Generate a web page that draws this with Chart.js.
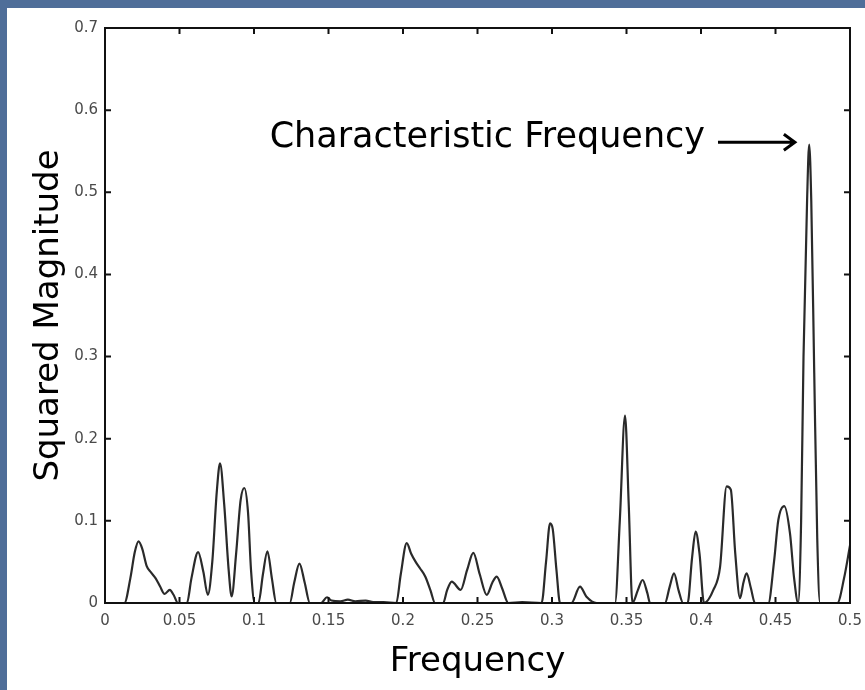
<!DOCTYPE html>
<html>
<head>
<meta charset="utf-8">
<script src="https://cdn.jsdelivr.net/npm/chart.js@4"></script>
<style>
  html, body { margin: 0; padding: 0; }
  body { width: 865px; height: 690px; background: #4f6e99; position: relative; overflow: hidden; }
  #panel { position: absolute; left: 7px; top: 8px; width: 858px; height: 682px; background: #fff; }
</style>
</head>
<body>
<div id="panel"><canvas id="spectrum" width="858" height="682"></canvas></div>
<script>
// spectrum
const freq = [
  0.000, 0.013, 0.017, 0.020, 0.0225, 0.025, 0.028, 0.031, 0.034, 0.037, 0.040, 0.0435, 0.046, 0.049,
  0.055, 0.058, 0.0625, 0.066, 0.069, 0.072, 0.075, 0.0772, 0.080, 0.083, 0.085, 0.088, 0.091, 0.0935,
  0.096, 0.098, 0.1005, 0.103, 0.106, 0.109, 0.112, 0.115, 0.124, 0.127, 0.1305, 0.134, 0.1375,
  0.145, 0.149, 0.152, 0.158, 0.163, 0.168, 0.175, 0.180, 0.187, 0.1955,
  0.1985, 0.2025, 0.2055, 0.2085, 0.2115, 0.215, 0.2185, 0.2215, 0.227, 0.2295, 0.2327, 0.2387,
  0.243, 0.2472, 0.2515, 0.2562, 0.260, 0.2629, 0.2665, 0.2707, 0.280, 0.293, 0.296, 0.2987, 0.3005,
  0.303, 0.3054, 0.313, 0.3188, 0.323, 0.330, 0.3423, 0.3455, 0.349, 0.3515, 0.354, 0.3575, 0.3608,
  0.364, 0.3658, 0.3758, 0.379, 0.3819, 0.385, 0.388, 0.391, 0.394, 0.3964, 0.399, 0.402, 0.4083,
  0.4128, 0.4172, 0.420, 0.423, 0.4262, 0.4285, 0.4306, 0.4335, 0.4362, 0.4452, 0.449, 0.4519, 0.4559,
  0.4597, 0.4625, 0.4652, 0.4672, 0.4688, 0.4712, 0.4726, 0.474, 0.476, 0.478, 0.4799, 0.4915, 0.496, 0.500
];
const magnitude = [
  0.000, 0.000, 0.030, 0.062, 0.075, 0.066, 0.045, 0.037, 0.030, 0.020, 0.011, 0.016, 0.010, 0.000,
  0.000, 0.030, 0.062, 0.038, 0.010, 0.050, 0.135, 0.170, 0.120, 0.040, 0.008, 0.060, 0.125, 0.140,
  0.110, 0.040, 0.000, 0.000, 0.035, 0.063, 0.030, 0.000, 0.000, 0.025, 0.048, 0.025, 0.000,
  0.000, 0.007, 0.003, 0.002, 0.004, 0.002, 0.003, 0.001, 0.001, 0.000,
  0.035, 0.073, 0.060, 0.050, 0.042, 0.032, 0.015, 0.000, 0.000, 0.015, 0.026, 0.016,
  0.040, 0.061, 0.035, 0.010, 0.025, 0.032, 0.018, 0.000, 0.001, 0.000, 0.050, 0.097, 0.090,
  0.040, 0.000, 0.000, 0.020, 0.008, 0.000, 0.000, 0.100, 0.228, 0.120, 0.000, 0.015, 0.028,
  0.012, 0.000, 0.000, 0.020, 0.036, 0.015, 0.000, 0.000, 0.055, 0.087, 0.060, 0.000, 0.016,
  0.044, 0.142, 0.138, 0.060, 0.006, 0.025, 0.036, 0.018, 0.000, 0.000, 0.050, 0.101, 0.118,
  0.085, 0.030, 0.000, 0.100, 0.300, 0.490, 0.558, 0.490, 0.280, 0.080, 0.000, 0.000, 0.030, 0.070
];
const xTickLabels = ['0', '0.05', '0.1', '0.15', '0.2', '0.25', '0.3', '0.35', '0.4', '0.45', '0.5'];
const yTickLabels = ['0', '0.1', '0.2', '0.3', '0.4', '0.5', '0.6', '0.7'];

// annotation, in data units
const noteText = 'Characteristic Frequency';
const noteEnd = 0.4027, noteY = 0.566;
const arrowFrom = 0.4114, arrowTo = 0.463, arrowY = 0.561;

const frameAndNote = {
  id: 'frameAndNote',
  afterDraw(chart) {
    const { ctx, chartArea: a, scales: { x, y } } = chart;
    ctx.save();
    ctx.strokeStyle = '#111';
    ctx.lineWidth = 2;
    ctx.strokeRect(a.left, a.top, a.right - a.left, a.bottom - a.top);
    // inward ticks on all four sides
    const tl = 6;
    ctx.beginPath();
    x.ticks.forEach(t => {
      const px = x.getPixelForValue(t.value);
      ctx.moveTo(px, a.bottom); ctx.lineTo(px, a.bottom - tl);
      ctx.moveTo(px, a.top); ctx.lineTo(px, a.top + tl);
    });
    y.ticks.forEach(t => {
      const py = y.getPixelForValue(t.value);
      ctx.moveTo(a.left, py); ctx.lineTo(a.left + tl, py);
      ctx.moveTo(a.right, py); ctx.lineTo(a.right - tl, py);
    });
    ctx.stroke();

    ctx.fillStyle = '#000';
    ctx.font = '35px "DejaVu Sans"';
    ctx.textAlign = 'right';
    ctx.textBaseline = 'middle';
    ctx.fillText(noteText, x.getPixelForValue(noteEnd), y.getPixelForValue(noteY));

    const x0 = x.getPixelForValue(arrowFrom), x1 = x.getPixelForValue(arrowTo);
    const ay = y.getPixelForValue(arrowY);
    ctx.lineWidth = 3;
    ctx.strokeStyle = '#000';
    ctx.beginPath();
    ctx.moveTo(x0, ay); ctx.lineTo(x1, ay);
    ctx.moveTo(x1 - 11, ay - 8); ctx.lineTo(x1, ay); ctx.lineTo(x1 - 11, ay + 8);
    ctx.stroke();
    ctx.restore();
  }
};

const tickFont = { family: 'DejaVu Sans', size: 15 };
const titleFont = { family: 'DejaVu Sans', size: 34 };

new Chart(document.getElementById('spectrum'), {
  type: 'line',
  data: {
    datasets: [{
      data: freq.map((f, i) => ({ x: f, y: magnitude[i] })),
      borderColor: '#2a2a2a',
      borderWidth: 2.2,
      pointRadius: 0,
      cubicInterpolationMode: 'monotone',
      fill: false
    }]
  },
  options: {
    responsive: false,
    animation: false,
    devicePixelRatio: 1,
    layout: { padding: { top: 20, right: 15, left: 0, bottom: 0 } },
    plugins: { legend: { display: false }, tooltip: { enabled: false } },
    scales: {
      x: {
        type: 'linear', min: 0, max: 0.5,
        grid: { display: false, drawTicks: false },
        border: { display: false },
        ticks: {
          stepSize: 0.05, autoSkip: false, maxRotation: 0, padding: 9,
          font: tickFont, color: '#4a4a4a',
          callback: (v, i) => xTickLabels[i]
        },
        title: { display: true, text: 'Frequency', font: titleFont, color: '#000', padding: { top: 0, bottom: 7 } },
        afterFit: s => { s.height = 87; s.paddingLeft = 0; s.paddingRight = 0; }
      },
      y: {
        type: 'linear', min: 0, max: 0.7,
        grid: { display: false, drawTicks: false },
        border: { display: false },
        ticks: {
          stepSize: 0.1, autoSkip: false, padding: 7,
          font: tickFont, color: '#4a4a4a',
          callback: (v, i) => yTickLabels[i]
        },
        title: { display: true, text: 'Squared Magnitude', font: titleFont, color: '#000', padding: { top: 22, bottom: 0 } },
        afterFit: s => { s.width = 98; }
      }
    }
  },
  plugins: [frameAndNote]
});
</script>
</body>
</html>
